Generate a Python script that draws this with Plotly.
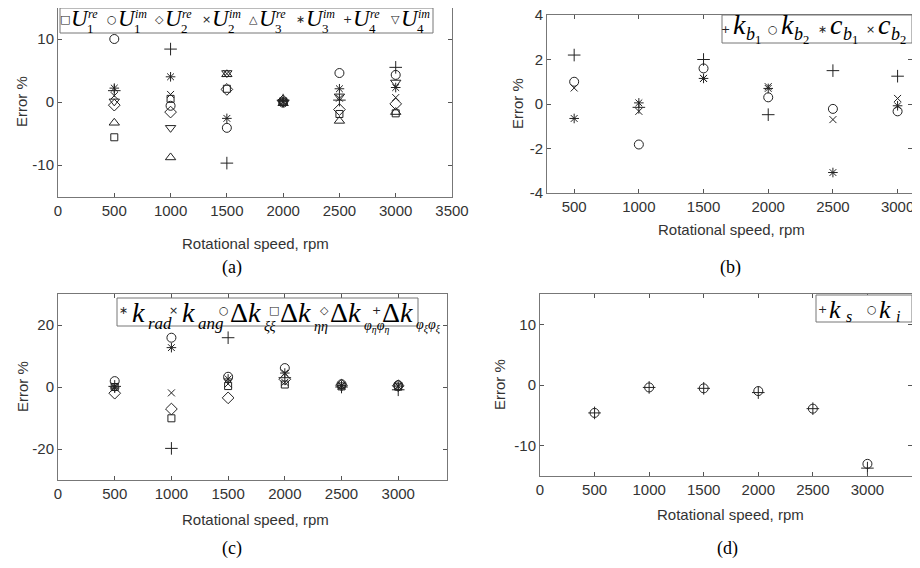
import plotly.graph_objects as go

# the page body keeps an 8 px margin, so the figure is 16 px smaller than the window
WIN_W, WIN_H = 920, 568
OFF = 8
W, H = WIN_W - 2 * OFF, WIN_H - 2 * OFF

speed = [500, 1000, 1500, 2000, 2500, 3000]

# (a) errors of the modal components, %
u1_re = [-5.6, 0.5, 2.1, 0.1, -1.9, -1.8]
u1_im = [10.0, -0.6, -4.1, -0.1, 4.6, 4.3]
u2_re = [-0.5, -1.6, 2.0, 0.2, -1.2, -0.3]
u2_im = [1.0, 1.2, 4.5, 0.0, 0.6, 0.7]
u3_re = [-3.3, -8.8, 4.4, -0.2, -3.0, -1.6]
u3_im = [2.2, 4.0, -2.6, 0.1, 2.1, 2.3]
u4_re = [1.8, 8.4, -9.7, 0.3, 0.3, 5.5]
u4_im = [0.1, -4.1, 4.6, -0.1, 0.9, 3.1]

# (b) bearing stiffness / damping errors, %
k_b1 = [2.2, -0.15, 2.0, -0.48, 1.5, 1.25]
k_b2 = [1.0, -1.82, 1.6, 0.3, -0.22, -0.33]
c_b1 = [-0.65, 0.05, 1.15, 0.7, -3.08, -0.08]
c_b2 = [0.72, -0.33, 1.15, 0.78, -0.7, 0.25]

# (c) support stiffness errors, %
k_rad = [-0.3, 12.7, 2.6, 4.5, 0.5, 0.3]
k_ang = [0.3, -1.9, 1.0, 1.5, 0.3, 0.2]
dk_xx = [1.9, 15.9, 3.3, 6.1, 0.9, 0.6]
dk_ee = [0.0, -10.1, 0.3, 0.8, 0.2, 0.1]
dk_pe = [-2.0, -7.1, -3.5, 2.5, 0.6, 0.4]
dk_px = [0.2, -19.8, 15.9, 3.0, 0.0, -0.9]

# (d)
k_s = [-4.6, -0.4, -0.55, -1.25, -3.9, -13.7]
k_i = [-4.6, -0.4, -0.55, -1.0, -3.9, -13.0]

SANS = "Liberation Sans, Arial, sans-serif"
SERIF = "Liberation Serif, Times New Roman, serif"
GLYPH = "DejaVu Sans"
INK = "#222"


def fx(p):
    return min(max((p - OFF) / W, 0), 1)


def fy(p):
    return min(max(1 - (p - OFF) / H, 0), 1)


fig = go.Figure()

# panel boxes in window pixels: (left, right), (top, bottom)
panels = [
    ("x", "y", (58, 452), (7.5, 196.5), [0, 3500], [-15, 15], list(range(0, 3501, 500)), [-10, 0, 10]),
    ("x2", "y2", (547, 917), (15, 193), [290, 3150], [-4, 4], speed, [-4, -2, 0, 2, 4]),
    ("x3", "y3", (58, 447), (294, 480), [0, 3430], [-30, 30], list(range(0, 3001, 500)), [-20, 0, 20]),
    ("x4", "y4", (540, 922), (294, 476), [0, 3500], [-15, 15], list(range(0, 3001, 500)), [-10, 0, 10]),
]

for xa, ya, (l, r), (t, b), xr, yr, xt, yt in panels:
    # clip panels that run past the visible window, keeping the data scale
    r2 = min(r, OFF + W)
    xr2 = [xr[0], xr[0] + (xr[1] - xr[0]) * (r2 - l) / (r - l)]
    t2 = max(t, OFF)
    yr2 = [yr[0], yr[0] + (yr[1] - yr[0]) * (b - t2) / (b - t)]
    common = dict(showline=True, linecolor="#777", linewidth=1, mirror="ticks",
                  ticks="inside", ticklen=4, tickcolor="#555", showgrid=False,
                  zeroline=False, automargin=False, ticklabeloverflow="allow",
                  tickfont=dict(family=SANS, size=15, color="#333"))
    fig.update_layout({
        "xaxis" + xa[1:]: dict(common, domain=[fx(l), fx(r2)], range=xr2, tickvals=xt,
                               ticktext=[str(v) for v in xt], anchor=ya),
        "yaxis" + ya[1:]: dict(common, domain=[fy(b), fy(t2)], range=yr2, tickvals=yt,
                               ticktext=[str(v) for v in yt], anchor=xa),
    })


def scatter(vals, symbol, size, xa, ya):
    fig.add_trace(go.Scatter(
        x=speed, y=vals, mode="markers", xaxis=xa, yaxis=ya, showlegend=False,
        marker=dict(symbol=symbol, size=size, color=INK, line=dict(width=1, color=INK))))


for vals, sym, sz in [(u1_re, "square-open", 7), (u1_im, "circle-open", 9),
                      (u2_re, "diamond-open", 9), (u2_im, "x-thin-open", 7),
                      (u3_re, "triangle-up-open", 9), (u3_im, "asterisk-open", 8),
                      (u4_re, "cross-thin-open", 9), (u4_im, "triangle-down-open", 9)]:
    scatter(vals, sym, sz, "x", "y")

for vals, sym, sz in [(k_b1, "cross-thin-open", 9), (k_b2, "circle-open", 9),
                      (c_b1, "asterisk-open", 8), (c_b2, "x-thin-open", 7)]:
    scatter(vals, sym, sz, "x2", "y2")

for vals, sym, sz in [(k_rad, "asterisk-open", 8), (k_ang, "x-thin-open", 7),
                      (dk_xx, "circle-open", 9), (dk_ee, "square-open", 7),
                      (dk_pe, "diamond-open", 9), (dk_px, "cross-thin-open", 9)]:
    scatter(vals, sym, sz, "x3", "y3")

for vals, sym, sz in [(k_s, "cross-thin-open", 9), (k_i, "circle-open", 9)]:
    scatter(vals, sym, sz, "x4", "y4")


def note(x, y, s, size, family, anchor="center", color="black", angle=0):
    fig.add_annotation(x=fx(x), y=fy(y), xref="paper", yref="paper", text=s,
                       showarrow=False, xanchor=anchor, yanchor="middle", borderpad=0,
                       textangle=angle, font=dict(family=family, size=size, color=color))


def text(x, base, s, size):
    # serif legend text whose baseline sits at window row `base`
    note(x, base - 0.34 * size, s, size, SERIF, anchor="left")


def glyph(x, yc, s, size=11):
    note(x, yc, s, size, GLYPH, color=INK)


def box(x0, x1, y0, y1):
    fig.add_shape(type="rect", xref="paper", yref="paper", x0=fx(x0), x1=fx(x1),
                  y0=fy(y1), y1=fy(y0), line=dict(color="#777", width=1),
                  fillcolor="white", layer="above")


# legend (a)
box(60, 433, 8, 33)
for g, gx, sub, sup in [("□", 65, "1", "re"), ("○", 112, "1", "im"), ("◇", 159, "2", "re"),
                        ("×", 206, "2", "im"), ("△", 253, "3", "re"), ("∗", 300, "3", "im"),
                        ("+", 347, "4", "re"), ("▽", 395, "4", "im")]:
    glyph(gx, 20, g)
    text(gx + 5, 26, "<i>U</i>", 23)
    text(gx + 21, 33, sub, 13)
    text(gx + 22, 18, "<i>" + sup + "</i>", 12)

# legend (b)
box(722, 913, 15, 43)
for g, gx, base, sub in [("+", 725, "k", "1"), ("○", 773, "k", "2"),
                         ("∗", 822, "c", "1"), ("×", 870, "c", "2")]:
    glyph(gx, 29, g)
    text(gx + 7, 34, "<i>" + base + "</i>", 28)
    text(gx + 20, 42, "<i>b</i><sub>" + sub + "</sub>", 18)

# legend (c)
box(117, 418, 298, 326)
for g, gx, delta, sub in [("∗", 123, False, "rad"), ("×", 173, False, "ang"),
                          ("○", 224, True, "ξξ"), ("□", 274, True, "ηη"),
                          ("◇", 324, True, "φ<sub>η</sub>φ<sub>η</sub>"),
                          ("+", 376, True, "φ<sub>ξ</sub>φ<sub>ξ</sub>")]:
    glyph(gx, 310, g)
    if delta:
        text(gx + 5, 322, "Δ<i>k</i>", 28)
        text(gx + 39, 331, "<i>" + sub + "</i>", 14)
    else:
        text(gx + 8, 322, "<i>k</i>", 28)
        text(gx + 24, 329, "<i>" + sub + "</i>", 17)

# legend (d)
box(816, 915, 295, 322)
for g, gx, sub in [("+", 822, "s"), ("○", 872, "i")]:
    glyph(gx, 309, g)
    text(gx + 6, 318, "<i>k</i>", 26)
    text(gx + 23, 322, "<i>" + sub + "</i>", 16)

# axis titles and panel letters
for x, y in [(255, 243), (731, 229), (255, 519), (730, 514)]:
    note(x, y, "Rotational speed, rpm", 15, SANS, color="#333")
for x, y in [(22, 102), (517, 104), (22, 387), (499, 385)]:
    note(x, y, "Error %", 15, SANS, color="#333", angle=-90)
for s, x, y in [("(a)", 232, 267), ("(b)", 730, 267), ("(c)", 232, 548), ("(d)", 727, 548)]:
    note(x, y, s, 18, SERIF)

fig.update_layout(width=W, height=H, margin=dict(l=0, r=0, t=0, b=0),
                  paper_bgcolor="white", plot_bgcolor="white", showlegend=False)

fig.write_html("out.html")
